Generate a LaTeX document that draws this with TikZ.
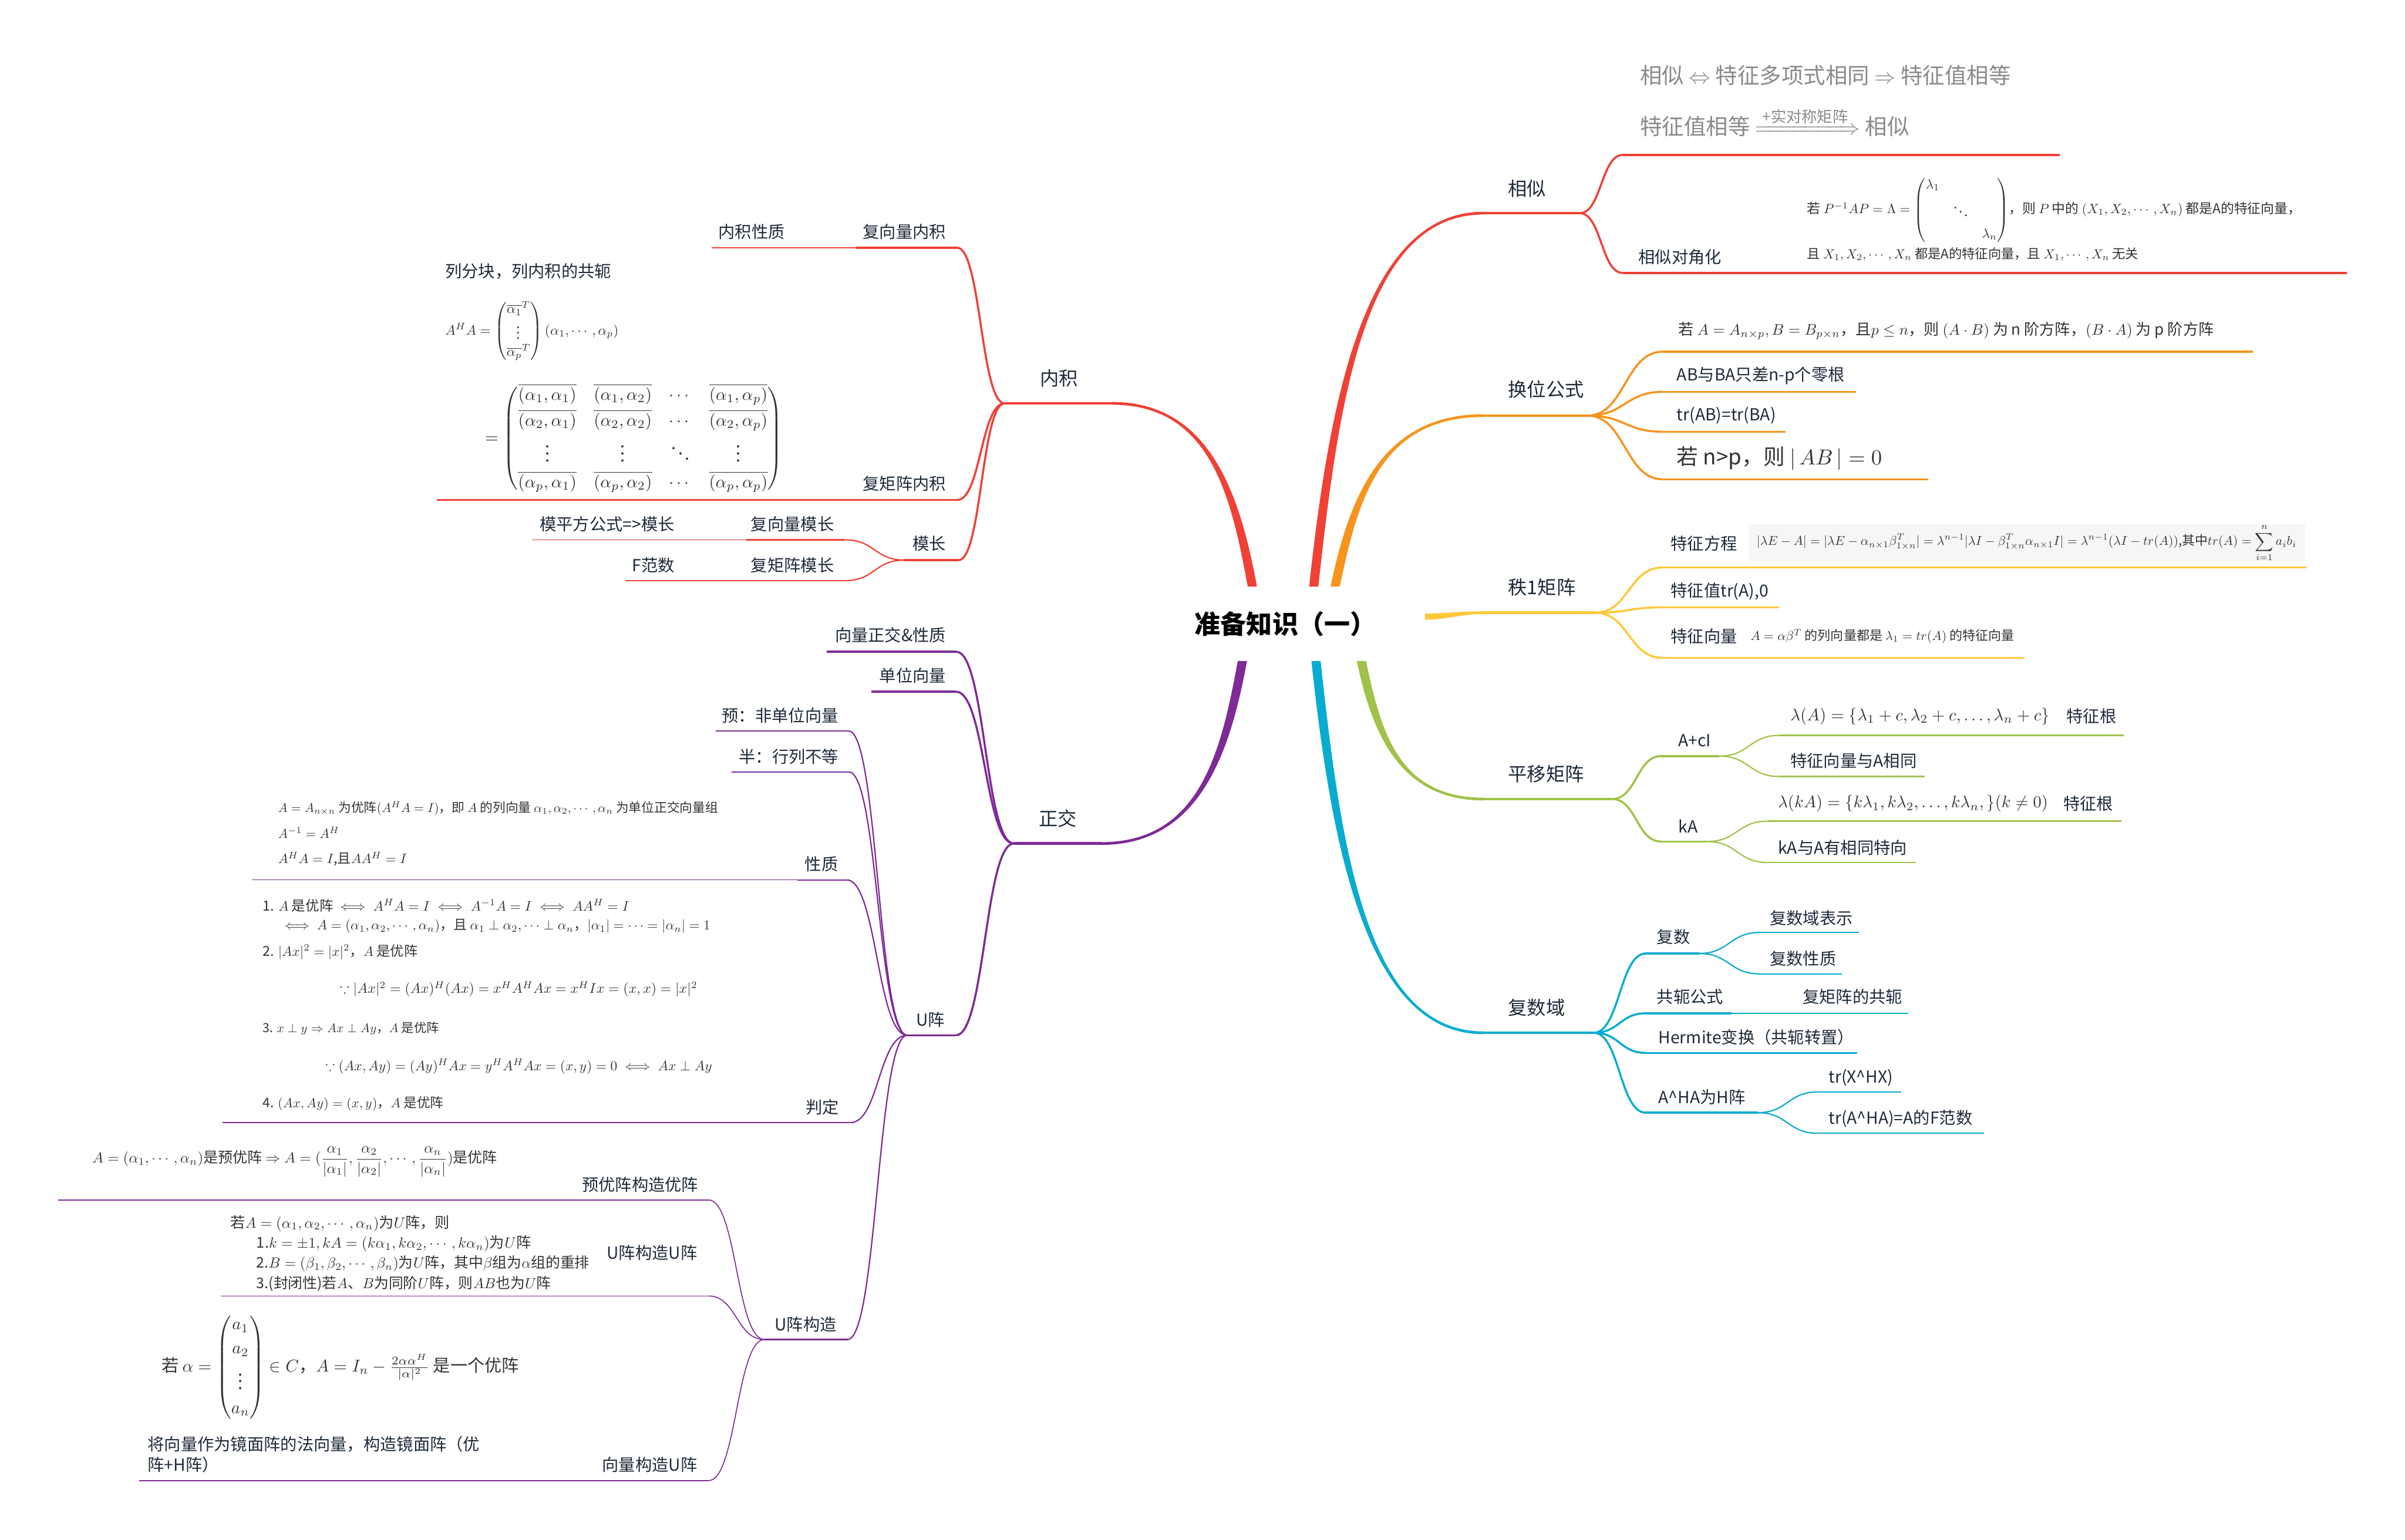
\documentclass[tikz,border=0pt]{standalone}
\usepackage{amsmath,amssymb,mathtools}
\usepackage[no-math]{fontspec}
\setmainfont{Noto Sans CJK SC}
\usepackage{graphicx}
\usetikzlibrary{calc}

\definecolor{cR}{HTML}{EF4136}
\definecolor{cO}{HTML}{F7941D}
\definecolor{cY}{HTML}{FFC83A}
\definecolor{cG}{HTML}{A0C24A}
\definecolor{cC}{HTML}{08ACD0}
\definecolor{cP}{HTML}{7F2A96}
\definecolor{txt}{HTML}{1E2A3A}
\definecolor{fg}{HTML}{333333}
\definecolor{lg}{HTML}{8A8A8A}
\definecolor{bgf}{HTML}{F6F6F6}

\newlength\upx \setlength\upx{0.025cm}
\newcommand\rb[2]{\resizebox{#1\upx}{!}{#2}}
% tapered main branch: colour, start, c1 offset, c2 offset, end, start half vector, end half vector
\newcommand\taper[7]{\fill[#1] ($(#2)+#6$) .. controls ($(#2)+#3+#6$) and ($(#5)+#4+#7$) .. ($(#5)+#7$) -- ($(#5)-#7$) .. controls ($(#5)+#4-#7$) and ($(#2)+#3-#6$) .. ($(#2)-#6$) -- cycle;}
% S-shaped branch between two named points
\newcommand\brc[3]{\draw[#1] let \p1=(#2), \p2=(#3) in (#2) .. controls ({(\x1+\x2)/2},\y1) and ({(\x1+\x2)/2},\y2) .. (#3);}

\tikzset{
  lab/.style={inner sep=0pt, text=txt, font=\fontsize{7.7}{9}\selectfont},
  mainlab/.style={inner sep=0pt, text=txt, font=\fontsize{8.8}{10}\selectfont},
  frm/.style={inner sep=0pt, anchor=west, text=fg},
  w1/.style={line width=1.3pt},
  w2/.style={line width=0.95pt},
  w3/.style={line width=0.6pt},
  w4/.style={line width=0.45pt},
}

\begin{document}
\begin{tikzpicture}[x=0.025cm,y=-0.025cm]
\fill[white] (0,0) rectangle (1568,1004);
\useasboundingbox (0,0) rectangle (1568,1004);

% ---------- coordinates ----------
\coordinate (r1) at (856.5,382.5);
\coordinate (r2) at (870.5,382.5);
\coordinate (r3) at (929,402);
\coordinate (r4) at (887.6,431);
\coordinate (r5) at (858,431);
\coordinate (l1) at (816.5,382.5);
\coordinate (l2) at (810,431);
% xiangsi
\coordinate (xsA) at (967,139); \coordinate (xsF) at (1030,139);
\coordinate (xsU) at (1058,101); \coordinate (xsUe) at (1343,101);
\coordinate (xsD) at (1058,178); \coordinate (xsDe) at (1530,178);
% huanwei
\coordinate (hwA) at (967,271); \coordinate (hwF) at (1035,271);
\coordinate (hw1) at (1084,229.3); \coordinate (hw1e) at (1469,229.3);
\coordinate (hw2) at (1084,255.5); \coordinate (hw2e) at (1210,255.5);
\coordinate (hw3) at (1084,281.5); \coordinate (hw3e) at (1164,281.5);
\coordinate (hw4) at (1084,312.5); \coordinate (hw4e) at (1257,312.5);
% zhi 1
\coordinate (zjA) at (967,399.5); \coordinate (zjF) at (1040,399.5);
\coordinate (zj1) at (1084,370); \coordinate (zj1e) at (1503.6,370);
\coordinate (zj2) at (1084,396); \coordinate (zj2e) at (1160,396);
\coordinate (zj3) at (1084,429); \coordinate (zj3e) at (1320,429);
% pingyi
\coordinate (pyA) at (967,521); \coordinate (pyF) at (1051,521);
\coordinate (pyc) at (1083,493); \coordinate (pycF) at (1121,493);
\coordinate (pyk) at (1083,548.7); \coordinate (pykF) at (1113,548.7);
\coordinate (pyc1) at (1160,479.5); \coordinate (pyc1e) at (1384.5,479.5);
\coordinate (pyc2) at (1160,506.3); \coordinate (pyc2e) at (1255,506.3);
\coordinate (pyk1) at (1152.5,535.4); \coordinate (pyk1e) at (1383,535.4);
\coordinate (pyk2) at (1152.5,562.4); \coordinate (pyk2e) at (1249,562.4);
% fushuyu
\coordinate (fsA) at (967,673.4); \coordinate (fsF) at (1039,673.4);
\coordinate (fs1) at (1073,621.7); \coordinate (fs1F) at (1107.7,621.7);
\coordinate (fs11) at (1147.4,608); \coordinate (fs11e) at (1212,608);
\coordinate (fs12) at (1147.4,635); \coordinate (fs12e) at (1201,635);
\coordinate (fs2) at (1073,660.7); \coordinate (fs2m) at (1129,660.7); \coordinate (fs2e) at (1244,660.7);
\coordinate (fs3) at (1073,686.5); \coordinate (fs3e) at (1211,686.5);
\coordinate (fs4) at (1073,725.5); \coordinate (fs4F) at (1146,725.5);
\coordinate (fs41) at (1185,712); \coordinate (fs41e) at (1239.4,712);
\coordinate (fs42) at (1185,738.9); \coordinate (fs42e) at (1293.7,738.9);
% neiji
\coordinate (njA) at (725,263); \coordinate (njF) at (655,263);
\coordinate (nj1) at (624,161.5); \coordinate (nj1m) at (558,161.5); \coordinate (nj1e) at (464,161.5);
\coordinate (nj2) at (624,326); \coordinate (nj2m) at (558,326); \coordinate (nj2e) at (284.7,326);
\coordinate (nj3) at (625,365.2); \coordinate (nj3F) at (589.6,365.2);
\coordinate (nj31) at (551,352); \coordinate (nj31m) at (486.5,352); \coordinate (nj31e) at (347,352);
\coordinate (nj32) at (551,378.6); \coordinate (nj32m) at (486.5,378.6); \coordinate (nj32e) at (407.7,378.6);
% zhengjiao
\coordinate (zgA) at (718,550); \coordinate (zgF) at (661,550);
\coordinate (zg1) at (623.6,425); \coordinate (zg1e) at (539,425);
\coordinate (zg2) at (623.3,451); \coordinate (zg2e) at (568,451);
\coordinate (zg3) at (623.3,675); \coordinate (zgU) at (591.5,675);
\coordinate (u1) at (553.4,476.7); \coordinate (u1e) at (466.5,476.7);
\coordinate (u2) at (553.4,503.3); \coordinate (u2e) at (477,503.3);
\coordinate (u3) at (552,573.7); \coordinate (u3m) at (519.8,573.7); \coordinate (u3e) at (164.3,573.7);
\coordinate (u4) at (554.4,732); \coordinate (u4m) at (521,732); \coordinate (u4e) at (145,732);
\coordinate (u5) at (552.6,873.4); \coordinate (u5F) at (498.4,873.4);
\coordinate (u51) at (462,782.4); \coordinate (u51m) at (376,782.4); \coordinate (u51e) at (37.9,782.4);
\coordinate (u52) at (462,845); \coordinate (u52m) at (397,845); \coordinate (u52e) at (144,845);
\coordinate (u53) at (462,965.4); \coordinate (u53m) at (394,965.4); \coordinate (u53e) at (90.6,965.4);

% ---------- connectors ----------
% xiangsi
\taper{cR}{r1}{(13.3,-121.8)}{(-77.4,0)}{xsA}{(3,0)}{(0,0.9)}
\draw[w1,cR] (xsA) -- (xsF);
\brc{w2,cR}{xsF}{xsU} \draw[w2,cR] (xsU) -- (xsUe);
\brc{w2,cR}{xsF}{xsD} \draw[w2,cR] (xsD) -- (xsDe);
% huanwei
\taper{cO}{r2}{(11.6,-55.8)}{(-67.6,0)}{hwA}{(3,0)}{(0,0.9)}
\draw[w1,cO] (hwA) -- (hwF);
\foreach \i in {1,...,4}{\brc{w2,cO}{hwF}{hw\i} \draw[w2,cO] (hw\i) -- (hw\i e);}
% zhi 1
\taper{cY}{r3}{(15,0)}{(-15,0)}{zjA}{(0,2)}{(0,0.9)}
\draw[w1,cY] (zjA) -- (zjF);
\foreach \i in {1,...,3}{\brc{w2,cY}{zjF}{zj\i} \draw[w2,cY] (zj\i) -- (zj\i e);}
% pingyi
\taper{cG}{r4}{(9.5,45)}{(-55.6,0)}{pyA}{(3,0)}{(0,-0.9)}
\draw[w1,cG] (pyA) -- (pyF);
\brc{w2,cG}{pyF}{pyc} \draw[w2,cG] (pyc) -- (pycF);
\brc{w2,cG}{pyF}{pyk} \draw[w2,cG] (pyk) -- (pykF);
\brc{w3,cG}{pycF}{pyc1} \draw[w3,cG] (pyc1) -- (pyc1e);
\brc{w3,cG}{pycF}{pyc2} \draw[w3,cG] (pyc2) -- (pyc2e);
\brc{w3,cG}{pykF}{pyk1} \draw[w3,cG] (pyk1) -- (pyk1e);
\brc{w3,cG}{pykF}{pyk2} \draw[w3,cG] (pyk2) -- (pyk2e);
% fushuyu
\taper{cC}{r5}{(13.1,121.2)}{(-76.3,0)}{fsA}{(3,0)}{(0,-0.9)}
\draw[w1,cC] (fsA) -- (fsF);
\brc{w2,cC}{fsF}{fs1} \draw[w2,cC] (fs1) -- (fs1F);
\brc{w3,cC}{fs1F}{fs11} \draw[w3,cC] (fs11) -- (fs11e);
\brc{w3,cC}{fs1F}{fs12} \draw[w3,cC] (fs12) -- (fs12e);
\brc{w2,cC}{fsF}{fs2} \draw[w2,cC] (fs2) -- (fs2m); \draw[w3,cC] (fs2m) -- (fs2e);
\brc{w2,cC}{fsF}{fs3} \draw[w2,cC] (fs3) -- (fs3e);
\brc{w2,cC}{fsF}{fs4} \draw[w2,cC] (fs4) -- (fs4F);
\brc{w3,cC}{fs4F}{fs41} \draw[w3,cC] (fs41) -- (fs41e);
\brc{w3,cC}{fs4F}{fs42} \draw[w3,cC] (fs42) -- (fs42e);
% neiji
\taper{cR}{l1}{(-11,-59.8)}{(64,0)}{njA}{(3,0)}{(0,-0.9)}
\draw[w1,cR] (njA) -- (njF);
\brc{w2,cR}{njF}{nj1} \draw[w2,cR] (nj1) -- (nj1m); \draw[w3,cR] (nj1m) -- (nj1e);
\brc{w2,cR}{njF}{nj2} \draw[w2,cR] (nj2) -- (nj2m); \draw[w3,cR] (nj2m) -- (nj2e);
\brc{w2,cR}{njF}{nj3} \draw[w2,cR] (nj3) -- (nj3F);
\brc{w3,cR}{nj3F}{nj31} \draw[w3,cR] (nj31) -- (nj31m); \draw[w4,cR] (nj31m) -- (nj31e);
\brc{w3,cR}{nj3F}{nj32} \draw[w3,cR] (nj32) -- (nj32m); \draw[w4,cR] (nj32m) -- (nj32e);
% zhengjiao
\taper{cP}{l2}{(-11,59.5)}{(64.4,0)}{zgA}{(3,0)}{(0,0.9)}
\draw[w1,cP] (zgA) -- (zgF);
\brc{w2,cP}{zgF}{zg1} \draw[w2,cP] (zg1) -- (zg1e);
\brc{w2,cP}{zgF}{zg2} \draw[w2,cP] (zg2) -- (zg2e);
\brc{w2,cP}{zgF}{zg3} \draw[w2,cP] (zg3) -- (zgU);
\brc{w3,cP}{zgU}{u1} \draw[w3,cP] (u1) -- (u1e);
\brc{w3,cP}{zgU}{u2} \draw[w3,cP] (u2) -- (u2e);
\brc{w3,cP}{zgU}{u3} \draw[w3,cP] (u3) -- (u3m); \draw[w4,cP] (u3m) -- (u3e);
\brc{w3,cP}{zgU}{u4} \draw[w3,cP] (u4) -- (u4m); \draw[w4,cP] (u4m) -- (u4e);
\brc{w3,cP}{zgU}{u5} \draw[w3,cP] (u5) -- (u5F);
\brc{w4,cP}{u5F}{u51} \draw[w4,cP] (u51) -- (u51e);
\brc{w4,cP}{u5F}{u52} \draw[w4,cP] (u52) -- (u52e);
\brc{w4,cP}{u5F}{u53} \draw[w4,cP] (u53) -- (u53e);

% ---------- nodes ----------
\node[inner sep=0pt,text=black,font=\bfseries\fontsize{12}{14}\selectfont] (root) at (838,407) {准备知识（一）};

% xiangsi
\node[mainlab,anchor=west] (xs) at (983,123) {相似};
\node[anchor=west,inner sep=0pt,text=lg,font=\fontsize{10.2}{12}\selectfont] (xst1) at (1069,49) {相似 $\Leftrightarrow$ 特征多项式相同 $\Rightarrow$ 特征值相等};
\node[anchor=base west,inner sep=0pt,text=lg,font=\fontsize{10.2}{12}\selectfont] (xst2) at (1069,88) {特征值相等 $\xRightarrow{\text{\,+实对称矩阵\,}}$ 相似};
\node[lab,anchor=west] (xsd) at (1068,167.5) {相似对角化};
\node[frm] (xsf1) at (1178,137) {\rb{322}{若 $P^{-1}AP=\Lambda=\begin{pmatrix}\lambda_1&&\\[3pt]&\ddots&\\[3pt]&&\lambda_n\end{pmatrix}$，则 $P$ 中的 $(X_1,X_2,\cdots,X_n)$ 都是A的特征向量，}};
\node[frm] (xsf2) at (1178,165.7) {\rb{216}{且 $X_1,X_2,\cdots,X_n$ 都是A的特征向量，且 $X_1,\cdots,X_n$ 无关}};

% huanwei
\node[mainlab,anchor=west] (hw) at (983,254) {换位公式};
\node[frm] (hwf1) at (1094,215.7) {\rb{349}{若 $A=A_{n\times p},B=B_{p\times n}$，且$p\le n$，则 $(A\cdot B)$ 为 n 阶方阵，$(B\cdot A)$ 为 p 阶方阵}};
\node[lab,anchor=west] (hwf2) at (1093,245) {AB与BA只差n-p个零根};
\node[lab,anchor=west] (hwf3) at (1093,271) {tr(AB)=tr(BA)};
\node[anchor=west,inner sep=0pt,text=fg,font=\fontsize{10}{12}\selectfont] (hwf4) at (1093,299) {若 n>p，则 $|\,AB\,|=0$};

% zhi 1
\node[mainlab,anchor=west] (zj) at (983,383) {秩1矩阵};
\fill[bgf] (1140,342) rectangle (1503,366);
\node[lab,anchor=west] (zj1t) at (1089,354.5) {特征方程};
\node[frm] (zjf1) at (1145,354) {\rb{352}{$\displaystyle |\lambda E-A|=|\lambda E-\alpha_{n\times1}\beta_{1\times n}^T|=\lambda^{n-1}|\lambda I-\beta_{1\times n}^T\alpha_{n\times1}I|=\lambda^{n-1}(\lambda I-tr(A))$,其中$\displaystyle tr(A)=\sum_{i=1}^n a_ib_i$}};
\node[lab,anchor=west] (zj2t) at (1089,385.5) {特征值tr(A),0};
\node[lab,anchor=west] (zj3t) at (1089,415) {特征向量};
\node[frm] (zjf3) at (1141,415) {\rb{172}{$A=\alpha\beta^T$ 的列向量都是 $\lambda_1=tr(A)$ 的特征向量}};

% pingyi
\node[mainlab,anchor=west] (py) at (983,504.8) {平移矩阵};
\node[lab,anchor=west] (pyct) at (1094,483) {A+cI};
\node[lab,anchor=west] (pykt) at (1094,538.6) {kA};
\node[frm] (pyf1) at (1167,467) {\rb{169}{$\lambda(A)=\{\lambda_1+c,\lambda_2+c,\ldots,\lambda_n+c\}$}};
\node[lab,anchor=west] (pyr1) at (1347,467) {特征根};
\node[lab,anchor=west] (pyc2t) at (1167,496) {特征向量与A相同};
\node[frm] (pyf2) at (1159,524) {\rb{176}{$\lambda(kA)=\{k\lambda_1,k\lambda_2,\ldots,k\lambda_n,\}(k\neq0)$}};
\node[lab,anchor=west] (pyr2) at (1345,524) {特征根};
\node[lab,anchor=west] (pyk2t) at (1159,552.6) {kA与A有相同特向};

% fushuyu
\node[mainlab,anchor=west] (fs) at (983,657) {复数域};
\node[lab,anchor=west] (fs1t) at (1080,611) {复数};
\node[lab,anchor=west] (fs11t) at (1153.6,598.5) {复数域表示};
\node[lab,anchor=west] (fs12t) at (1153.6,625) {复数性质};
\node[lab,anchor=west] (fs2t) at (1080,650) {共轭公式};
\node[lab,anchor=west] (fs21t) at (1175,650) {复矩阵的共轭};
\node[lab,anchor=west] (fs3t) at (1081,676.5) {Hermite变换（共轭转置）};
\node[lab,anchor=west] (fs4t) at (1081,715.4) {A\textasciicircum HA为H阵};
\node[lab,anchor=west] (fs41t) at (1192,702.6) {tr(X\textasciicircum HX)};
\node[lab,anchor=west] (fs42t) at (1192,729.3) {tr(A\textasciicircum HA)=A的F范数};

% neiji
\node[mainlab,anchor=east] (nj) at (703,246.5) {内积};
\node[lab,anchor=east] (nj1t) at (617,151) {复向量内积};
\node[lab,anchor=east] (nj11t) at (512,151) {内积性质};
\node[lab,anchor=east] (nj2t) at (617,315.5) {复矩阵内积};
\node[lab,anchor=west] (nj21t) at (290,177) {列分块，列内积的共轭};
\node[frm] (njf1) at (290,216) {\rb{113}{$A^HA=\begin{pmatrix}\overline{\alpha_1}^T\\\vdots\\\overline{\alpha_p}^T\end{pmatrix}(\alpha_1,\cdots,\alpha_p)$}};
\node[frm] (njf2) at (316,286) {\rb{194}{$=\begin{pmatrix}\overline{(\alpha_1,\alpha_1)}&\overline{(\alpha_1,\alpha_2)}&\cdots&\overline{(\alpha_1,\alpha_p)}\\[2pt]\overline{(\alpha_2,\alpha_1)}&\overline{(\alpha_2,\alpha_2)}&\cdots&\overline{(\alpha_2,\alpha_p)}\\[2pt]\vdots&\vdots&\ddots&\vdots\\[2pt]\overline{(\alpha_p,\alpha_1)}&\overline{(\alpha_p,\alpha_2)}&\cdots&\overline{(\alpha_p,\alpha_p)}\end{pmatrix}$}};
\node[lab,anchor=east] (nj3t) at (617,354.5) {模长};
\node[lab,anchor=east] (nj31t) at (544,341.6) {复向量模长};
\node[lab,anchor=east] (nj311t) at (440,341.6) {模平方公式=>模长};
\node[lab,anchor=east] (nj32t) at (544,368.4) {复矩阵模长};
\node[lab,anchor=east] (nj321t) at (440,368.4) {F范数};

% zhengjiao
\node[mainlab,anchor=east] (zg) at (702.4,533.6) {正交};
\node[lab,anchor=east] (zg1t) at (617,414) {向量正交\&性质};
\node[lab,anchor=east] (zg2t) at (617,440.4) {单位向量};
\node[lab,anchor=east] (zg3t) at (616.3,664.7) {U阵};
\node[lab,anchor=east] (u1t) at (546.8,466.5) {预：非单位向量};
\node[lab,anchor=east] (u2t) at (547,493.3) {半：行列不等};
\node[lab,anchor=east] (u3t) at (546.7,563.4) {性质};
\node[lab,anchor=east] (u4t) at (547.4,722) {判定};
\node[lab,anchor=east] (u5t) at (545.7,863.7) {U阵构造};
\node[lab,anchor=east] (u51t) at (455.5,772.5) {预优阵构造优阵};
\node[lab,anchor=east] (u52t) at (454.8,816.7) {U阵构造U阵};
\node[lab,anchor=east] (u53t) at (454.8,955) {向量构造U阵};

% xingzhi formulas
\node[frm] (xz1) at (181,527) {\rb{287}{$A=A_{n\times n}$ 为优阵$(A^HA=I)$，即 $A$ 的列向量 $\alpha_1,\alpha_2,\cdots,\alpha_n$ 为单位正交向量组}};
\node[frm] (xz2) at (181,543) {\rb{40}{$A^{-1}=A^H$}};
\node[frm] (xz3) at (181,560) {\rb{84}{$A^HA=I$,且$AA^H=I$}};
% panding formulas
\node[frm] (pd1) at (171,590.5) {\rb{239}{1. $A$ 是优阵 $\iff A^HA=I\iff A^{-1}A=I\iff AA^H=I$}};
\node[frm] (pd2) at (182.8,604) {\rb{280}{$\iff A=(\alpha_1,\alpha_2,\cdots,\alpha_n)$，且 $\alpha_1\perp\alpha_2,\cdots\perp\alpha_n$，$|\alpha_1|=\cdots=|\alpha_n|=1$}};
\node[frm] (pd3) at (171,620.7) {\rb{101}{2. $|Ax|^2=|x|^2$，$A$ 是优阵}};
\node[frm] (pd4) at (221.4,645) {\rb{233}{$\because |Ax|^2=(Ax)^H(Ax)=x^HA^HAx=x^HIx=(x,x)=|x|^2$}};
\node[frm] (pd5) at (171,670.5) {\rb{115}{3. $x\perp y\Rightarrow Ax\perp Ay$，$A$ 是优阵}};
\node[frm] (pd6) at (212,695.3) {\rb{252}{$\because (Ax,Ay)=(Ay)^HAx=y^HA^HAx=(x,y)=0\iff Ax\perp Ay$}};
\node[frm] (pd7) at (171,719.6) {\rb{118}{4. $(Ax,Ay)=(x,y)$，$A$ 是优阵}};

% U construction formulas
\node[frm] (yy) at (60,757.5) {\rb{264}{$A=(\alpha_1,\cdots,\alpha_n)$是预优阵 $\Rightarrow A=(\dfrac{\alpha_1}{|\alpha_1|},\dfrac{\alpha_2}{|\alpha_2|},\cdots,\dfrac{\alpha_n}{|\alpha_n|})$是优阵}};
\node[frm] (uu1) at (150,797.7) {\rb{143}{若$A=(\alpha_1,\alpha_2,\cdots,\alpha_n)$为$U$阵，则}};
\node[frm] (uu2) at (167,810.7) {\rb{179}{1.$k=\pm1,kA=(k\alpha_1,k\alpha_2,\cdots,k\alpha_n)$为$U$阵}};
\node[frm] (uu3) at (167,823.8) {\rb{217}{2.$B=(\beta_1,\beta_2,\cdots,\beta_n)$为$U$阵，其中$\beta$组为$\alpha$组的重排}};
\node[frm] (uu4) at (167,836.9) {\rb{192}{3.(封闭性)若$A$、$B$为同阶$U$阵，则$AB$也为$U$阵}};
\node[frm] (xl) at (105,891.6) {\rb{233}{若 $\alpha=\begin{pmatrix}a_1\\[2pt]a_2\\[2pt]\vdots\\[2pt]a_n\end{pmatrix}\in C$，$A=I_n-\frac{2\alpha\alpha^H}{|\alpha|^2}$ 是一个优阵}};
\node[lab,anchor=west] (xlt1) at (96,941.5) {将向量作为镜面阵的法向量，构造镜面阵（优};
\node[lab,anchor=west] (xlt2) at (96,955) {阵+H阵）};
\end{tikzpicture}
\end{document}
